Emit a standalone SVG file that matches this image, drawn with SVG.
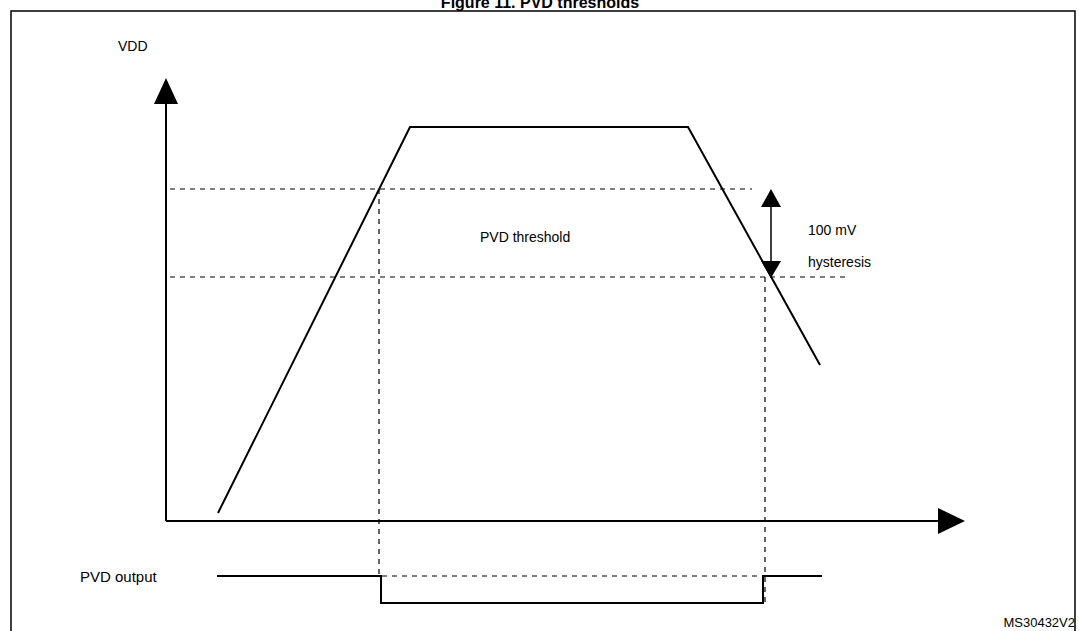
<svg xmlns="http://www.w3.org/2000/svg" width="1079" height="631" viewBox="0 0 1079 631">
<style>
text{font-family:"Liberation Sans",Arial,sans-serif;fill:#000}
.t{font-size:14px}
.d{stroke:#000;stroke-width:1.2;stroke-dasharray:5,5;fill:none}
.s{stroke:#000;stroke-width:2;fill:none}
</style>
<rect width="1079" height="631" fill="#fff"/>
<text x="540" y="8" font-size="16" font-weight="bold" text-anchor="middle">Figure 11. PVD thresholds</text>
<rect x="11" y="11" width="1064" height="640" fill="none" stroke="#000" stroke-width="1.5"/>
<g id="axes">
<line class="s" x1="166" y1="95" x2="166" y2="521" stroke-width="3"/>
<polygon points="166,78 154,104 178,104"/>
<line class="s" x1="166" y1="521" x2="945" y2="521" stroke-width="3"/>
<polygon points="965,521 938,508 938,534"/>
</g>
<g id="connectors">
<polyline class="s" points="218,513 410,127 688,127 820,365"/>
<line class="d" x1="170" y1="189" x2="752" y2="189"/>
<line class="d" x1="170" y1="277" x2="850" y2="277"/>
<line class="d" x1="379" y1="189" x2="379" y2="576"/>
<line class="d" x1="765" y1="277" x2="765" y2="603"/>
<line class="d" x1="382" y1="576" x2="762" y2="576"/>
<polyline class="s" points="217,576 381,576 381,603 763,603 763,576 822,576"/>
<line x1="771" y1="200" x2="771" y2="266" stroke="#000" stroke-width="1.5"/>
<polygon points="771,189 761,207 781,207"/>
<polygon points="771,278 761,261 781,261"/>
</g>
<g id="labels">
<text class="t" x="118" y="51">VDD</text>
<text class="t" x="480" y="242">PVD threshold</text>
<text class="t" x="808" y="235">100 mV</text>
<text class="t" x="808" y="267">hysteresis</text>
<text x="80" y="582" font-size="15">PVD output</text>
<text x="1075" y="627" font-size="13" text-anchor="end">MS30432V2</text>
</g>
</svg>
